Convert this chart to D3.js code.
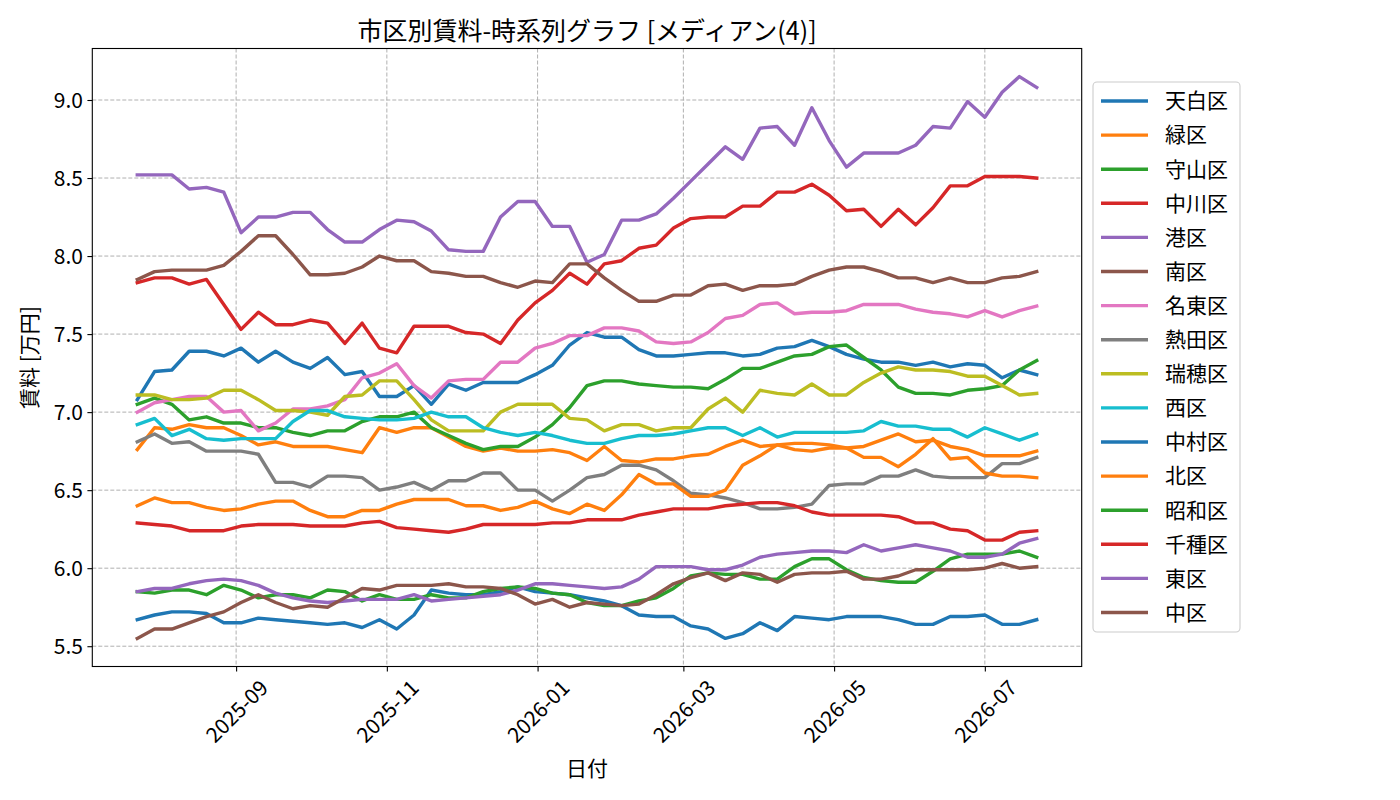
<!DOCTYPE html>
<html><head><meta charset="utf-8">
<script src="https://cdn.jsdelivr.net/npm/d3@7"></script>
<style>
body{margin:0;background:#fff;}
text{font-family:"Noto Sans CJK JP","Noto Sans",sans-serif;fill:#000;}
</style>
</head><body>
<svg id="chart" width="1400" height="800"></svg>
<script>
// ---------- data ----------
const dates = ["2025-07-23","2025-07-30","2025-08-06","2025-08-13","2025-08-20","2025-08-27","2025-09-03","2025-09-10","2025-09-17","2025-09-24",
"2025-10-01","2025-10-08","2025-10-15","2025-10-22","2025-10-29","2025-11-05","2025-11-12","2025-11-19","2025-11-26","2025-12-03",
"2025-12-10","2025-12-17","2025-12-24","2025-12-31","2026-01-07","2026-01-14","2026-01-21","2026-01-28","2026-02-04","2026-02-11",
"2026-02-18","2026-02-25","2026-03-04","2026-03-11","2026-03-18","2026-03-25","2026-04-01","2026-04-08","2026-04-15","2026-04-22",
"2026-04-29","2026-05-06","2026-05-13","2026-05-20","2026-05-27","2026-06-03","2026-06-10","2026-06-17","2026-06-24","2026-07-01",
"2026-07-08","2026-07-15","2026-07-22"];

const districts = ["天白区","緑区","守山区","中川区","港区","南区","名東区","熱田区","瑞穂区","西区","中村区","北区","昭和区","千種区","東区","中区"];
const palette = ["#1f77b4","#ff7f0e","#2ca02c","#d62728","#9467bd","#8c564b","#e377c2","#7f7f7f","#bcbd22","#17becf"];

const tenpaku = [7.08,7.26,7.27,7.39,7.39,7.36,7.41,7.32,7.39,7.32,7.28,7.35,7.24,7.26,7.10,7.10,7.17,7.05,7.18,7.14,7.19,7.19,7.19,7.24,7.30,7.43,7.51,7.48,7.48,7.40,7.36,7.36,7.37,7.38,7.38,7.36,7.37,7.41,7.42,7.46,7.42,7.37,7.34,7.32,7.32,7.30,7.32,7.29,7.31,7.30,7.22,7.27,7.24];
const midori = [6.76,6.90,6.89,6.92,6.90,6.90,6.85,6.79,6.81,6.78,6.78,6.78,6.76,6.74,6.90,6.87,6.90,6.90,6.84,6.78,6.75,6.77,6.75,6.75,6.76,6.74,6.69,6.78,6.69,6.68,6.70,6.70,6.72,6.73,6.78,6.82,6.78,6.79,6.76,6.75,6.77,6.77,6.78,6.82,6.86,6.81,6.82,6.78,6.76,6.72,6.72,6.72,6.75];
const moriyama = [7.05,7.09,7.05,6.95,6.97,6.93,6.93,6.90,6.90,6.87,6.85,6.88,6.88,6.94,6.97,6.97,7.00,6.90,6.85,6.80,6.76,6.78,6.78,6.84,6.92,7.03,7.17,7.20,7.20,7.18,7.17,7.16,7.16,7.15,7.21,7.28,7.28,7.32,7.36,7.37,7.42,7.43,7.35,7.27,7.16,7.12,7.12,7.11,7.14,7.15,7.17,7.27,7.33];
const nakagawa = [7.83,7.86,7.86,7.82,7.85,7.69,7.53,7.64,7.56,7.56,7.59,7.57,7.44,7.57,7.41,7.38,7.55,7.55,7.55,7.51,7.50,7.44,7.59,7.70,7.78,7.89,7.82,7.95,7.97,8.05,8.07,8.18,8.24,8.25,8.25,8.32,8.32,8.41,8.41,8.46,8.39,8.29,8.30,8.19,8.30,8.20,8.31,8.45,8.45,8.51,8.51,8.51,8.50];
const minato = [8.52,8.52,8.52,8.43,8.44,8.41,8.15,8.25,8.25,8.28,8.28,8.17,8.09,8.09,8.17,8.23,8.22,8.16,8.04,8.03,8.03,8.25,8.35,8.35,8.19,8.19,7.96,8.01,8.23,8.23,8.27,8.37,8.48,8.59,8.70,8.62,8.82,8.83,8.71,8.95,8.74,8.57,8.66,8.66,8.66,8.71,8.83,8.82,8.99,8.89,9.05,9.15,9.08];
const minami = [7.85,7.90,7.91,7.91,7.91,7.94,8.03,8.13,8.13,8.01,7.88,7.88,7.89,7.93,8.00,7.97,7.97,7.90,7.89,7.87,7.87,7.83,7.80,7.84,7.83,7.95,7.95,7.86,7.78,7.71,7.71,7.75,7.75,7.81,7.82,7.78,7.81,7.81,7.82,7.87,7.91,7.93,7.93,7.90,7.86,7.86,7.83,7.86,7.83,7.83,7.86,7.87,7.90];
const meito = [7.00,7.06,7.08,7.10,7.10,7.00,7.01,6.88,6.93,7.02,7.02,7.04,7.08,7.22,7.25,7.31,7.17,7.09,7.20,7.21,7.21,7.32,7.32,7.41,7.44,7.49,7.49,7.54,7.54,7.52,7.45,7.44,7.45,7.51,7.60,7.62,7.69,7.70,7.63,7.64,7.64,7.65,7.69,7.69,7.69,7.66,7.64,7.63,7.61,7.65,7.61,7.65,7.68];
const atsuta = [6.81,6.86,6.80,6.81,6.75,6.75,6.75,6.73,6.55,6.55,6.52,6.59,6.59,6.58,6.50,6.52,6.55,6.50,6.56,6.56,6.61,6.61,6.50,6.50,6.43,6.50,6.58,6.60,6.66,6.66,6.63,6.56,6.48,6.47,6.45,6.42,6.38,6.38,6.39,6.41,6.53,6.54,6.54,6.59,6.59,6.63,6.59,6.58,6.58,6.58,6.67,6.67,6.71];
const mizuho = [7.11,7.11,7.08,7.08,7.09,7.14,7.14,7.08,7.01,7.01,7.00,6.98,7.10,7.11,7.20,7.20,7.08,6.95,6.88,6.88,6.88,7.00,7.05,7.05,7.05,6.96,6.95,6.88,6.92,6.92,6.88,6.90,6.90,7.02,7.09,7.00,7.14,7.12,7.11,7.18,7.11,7.11,7.19,7.25,7.29,7.27,7.27,7.26,7.23,7.23,7.17,7.11,7.12];
const nishi = [6.92,6.96,6.85,6.89,6.83,6.82,6.83,6.83,6.83,6.94,7.01,7.01,6.97,6.96,6.95,6.95,6.96,7.00,6.97,6.97,6.90,6.87,6.85,6.87,6.85,6.82,6.80,6.80,6.83,6.85,6.85,6.86,6.88,6.90,6.90,6.85,6.90,6.84,6.87,6.87,6.87,6.87,6.88,6.94,6.91,6.91,6.89,6.89,6.84,6.90,6.86,6.82,6.86];
const nakamura = [5.67,5.70,5.72,5.72,5.71,5.65,5.65,5.68,5.67,5.66,5.65,5.64,5.65,5.62,5.67,5.61,5.70,5.86,5.84,5.83,5.83,5.85,5.88,5.85,5.84,5.83,5.81,5.79,5.76,5.70,5.69,5.69,5.63,5.61,5.55,5.58,5.65,5.60,5.69,5.68,5.67,5.69,5.69,5.69,5.67,5.64,5.64,5.69,5.69,5.70,5.64,5.64,5.67];
const kita = [6.40,6.45,6.42,6.42,6.39,6.37,6.38,6.41,6.43,6.43,6.37,6.33,6.33,6.37,6.37,6.41,6.44,6.44,6.44,6.40,6.40,6.37,6.39,6.43,6.38,6.35,6.41,6.37,6.47,6.60,6.54,6.54,6.46,6.46,6.50,6.66,6.72,6.79,6.80,6.80,6.79,6.77,6.71,6.71,6.65,6.73,6.83,6.70,6.71,6.61,6.59,6.59,6.58];
const showa = [5.85,5.84,5.86,5.86,5.83,5.89,5.86,5.81,5.83,5.83,5.81,5.86,5.85,5.79,5.83,5.80,5.80,5.83,5.81,5.81,5.85,5.87,5.88,5.87,5.84,5.83,5.78,5.76,5.76,5.79,5.81,5.87,5.95,5.97,5.96,5.96,5.93,5.93,6.01,6.06,6.06,5.99,5.94,5.92,5.91,5.91,5.98,6.06,6.09,6.09,6.09,6.11,6.07];
const chikusa = [6.29,6.28,6.27,6.24,6.24,6.24,6.27,6.28,6.28,6.28,6.27,6.27,6.27,6.29,6.30,6.26,6.25,6.24,6.23,6.25,6.28,6.28,6.28,6.28,6.29,6.29,6.31,6.31,6.31,6.34,6.36,6.38,6.38,6.38,6.40,6.41,6.42,6.42,6.40,6.36,6.34,6.34,6.34,6.34,6.33,6.29,6.29,6.25,6.24,6.18,6.18,6.23,6.24];
const higashi = [5.85,5.87,5.87,5.90,5.92,5.93,5.92,5.89,5.84,5.81,5.79,5.78,5.79,5.80,5.80,5.80,5.83,5.79,5.80,5.81,5.82,5.83,5.86,5.90,5.90,5.89,5.88,5.87,5.88,5.93,6.01,6.01,6.01,5.99,5.99,6.02,6.07,6.09,6.10,6.11,6.11,6.10,6.15,6.11,6.13,6.15,6.13,6.11,6.07,6.07,6.09,6.16,6.19];
const naka = [5.55,5.61,5.61,5.65,5.69,5.72,5.78,5.83,5.78,5.74,5.76,5.75,5.81,5.87,5.86,5.89,5.89,5.89,5.90,5.88,5.88,5.87,5.83,5.77,5.80,5.75,5.78,5.77,5.76,5.77,5.83,5.90,5.94,5.97,5.92,5.97,5.96,5.91,5.96,5.97,5.97,5.98,5.93,5.93,5.95,5.99,5.99,5.99,5.99,6.00,6.03,6.00,6.01];

const seriesValues = [tenpaku,midori,moriyama,nakagawa,minato,minami,meito,atsuta,mizuho,nishi,nakamura,kita,showa,chikusa,higashi,naka];

const yTicks = [5.5,6.0,6.5,7.0,7.5,8.0,8.5,9.0];
const xTicks = ["2025-09-01","2025-11-01","2026-01-01","2026-03-01","2026-05-01","2026-07-01"];

const titleText = "市区別賃料-時系列グラフ [メディアン(4)]";
const xLabel = "日付";
const yLabel = "賃料 [万円]";

// ---------- layout ----------
const svg = d3.select("#chart");
const L = 92.3, R = 1081.7, T = 48.5, B = 666.5;
const parse = d3.utcParse("%Y-%m-%d");
const dts = dates.map(parse);

const xExt = d3.extent(dts);
const xPad = (xExt[1] - xExt[0]) * 0.05;
const x = d3.scaleUtc().domain([new Date(+xExt[0] - xPad), new Date(+xExt[1] + xPad)]).range([L, R]);

const allV = seriesValues.flat();
const yExt = d3.extent(allV);
const yPad = (yExt[1] - yExt[0]) * 0.05;
const y = d3.scaleLinear().domain([yExt[0] - yPad, yExt[1] + yPad]).range([B, T]);

const fs = 21;

// grid
const grid = svg.append("g");
grid.selectAll("line.gy").data(yTicks).join("line")
  .attr("x1", L).attr("x2", R).attr("y1", d => y(d)).attr("y2", d => y(d))
  .attr("stroke", "#b0b0b0").attr("stroke-width", 1).attr("stroke-dasharray", "4,2");
grid.selectAll("line.gx").data(xTicks).join("line")
  .attr("x1", d => x(parse(d))).attr("x2", d => x(parse(d))).attr("y1", T).attr("y2", B)
  .attr("stroke", "#b0b0b0").attr("stroke-width", 1).attr("stroke-dasharray", "4,2");

// lines
svg.append("clipPath").attr("id", "clip").append("rect")
  .attr("x", L).attr("y", T).attr("width", R - L).attr("height", B - T);
const lineGen = d3.line().x((d, i) => x(dts[i])).y(d => y(d));
const lg = svg.append("g").attr("clip-path", "url(#clip)");
seriesValues.forEach((vals, si) => {
  lg.append("path").datum(vals).attr("d", lineGen)
    .attr("fill", "none").attr("stroke", palette[si % 10])
    .attr("stroke-width", 3.4).attr("stroke-linejoin", "round").attr("stroke-linecap", "square");
});

// frame
svg.append("rect").attr("x", L).attr("y", T).attr("width", R - L).attr("height", B - T)
  .attr("fill", "none").attr("stroke", "#000").attr("stroke-width", 1.1);

// y axis
const yAxis = svg.append("g").attr("transform", `translate(${L},0)`)
  .call(d3.axisLeft(y).tickValues(yTicks).tickFormat(d3.format(".1f")).tickSize(4.9).tickPadding(4.5));
yAxis.select(".domain").remove();
yAxis.selectAll("line").attr("stroke", "#000").attr("stroke-width", 1.1);
yAxis.selectAll("text").attr("font-size", fs).attr("font-family", null).attr("dy", "0.35em");

// x axis
const xAxis = svg.append("g").attr("transform", `translate(0,${B})`)
  .call(d3.axisBottom(x).tickValues(xTicks.map(parse)).tickFormat(d3.utcFormat("%Y-%m")).tickSize(4.9));
xAxis.select(".domain").remove();
xAxis.selectAll("line").attr("stroke", "#000").attr("stroke-width", 1.1);
xAxis.selectAll("text").attr("font-size", fs).attr("font-family", null)
  .attr("text-anchor", "start").attr("dy", null).attr("y", 0)
  .each(function(d) {
    const t = d3.select(this);
    const len = this.getComputedTextLength();
    const a = 0.88 * fs, de = 0.12 * fs;
    const top = 4.9 + 4.9;
    const ox = x(d) - (len + de - a) / (2 * Math.SQRT2);
    const oy = top + (len + a) / Math.SQRT2;
    t.attr("transform", `translate(${ox - x(d)},${oy}) rotate(-45)`);
  });

// labels
svg.append("text").attr("x", (L + R) / 2).attr("y", 776).attr("text-anchor", "middle")
  .attr("font-size", fs).text(xLabel);
svg.append("text").attr("transform", `translate(37,${(T + B) / 2}) rotate(-90)`)
  .attr("text-anchor", "middle").attr("font-size", fs).text(yLabel);
svg.append("text").attr("x", (L + R) / 2).attr("y", 40).attr("text-anchor", "middle")
  .attr("font-size", 25).text(titleText);

// legend
const lgX = 1093, lgY = 82, lgW = 147, lgH = 550, step = 34.1;
const leg = svg.append("g");
leg.append("rect").attr("x", lgX).attr("y", lgY).attr("width", lgW).attr("height", lgH)
  .attr("rx", 4).attr("fill", "#fff").attr("fill-opacity", 0.8)
  .attr("stroke", "#cccccc").attr("stroke-width", 1.1);
districts.forEach((n, i) => {
  const cy = lgY + 19 + i * step;
  leg.append("line").attr("x1", lgX + 8).attr("x2", lgX + 55).attr("y1", cy).attr("y2", cy)
    .attr("stroke", palette[i % 10]).attr("stroke-width", 3.4);
  leg.append("text").attr("x", lgX + 72).attr("y", cy).attr("dy", "0.35em")
    .attr("font-size", fs).text(n);
});
</script>
</body></html>
